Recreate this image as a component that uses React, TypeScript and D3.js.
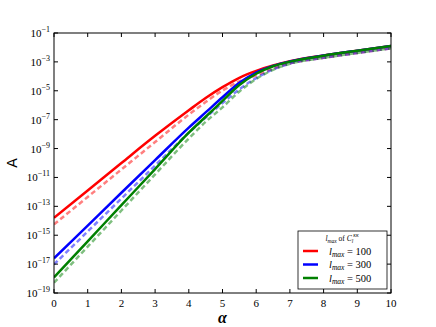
import React from "react";
import * as d3 from "d3";

const alphas = [0, 1, 2, 3, 4, 4.5, 5, 5.5, 6, 6.5, 7, 8, 9, 10];
// log10(A) values
const red100 = [-13.79, -11.9, -10.0, -8.12, -6.35, -5.5, -4.75, -4.1, -3.62, -3.25, -2.95, -2.55, -2.22, -1.9];
const blue300 = [-16.6, -14.33, -12.06, -9.8, -7.55, -6.5, -5.45, -4.45, -3.74, -3.28, -2.97, -2.56, -2.22, -1.9];
const green500 = [-17.92, -15.42, -12.92, -10.42, -7.9, -6.8, -5.7, -4.6, -3.82, -3.3, -2.98, -2.57, -2.23, -1.9];
const red100Dash = [-14.25, -12.35, -10.45, -8.55, -6.65, -5.78, -4.98, -4.35, -3.93, -3.46, -3.1, -2.72, -2.38, -2.06];
const blue300Dash = [-17.02, -14.74, -12.46, -10.18, -7.9, -6.85, -5.85, -4.9, -4.12, -3.52, -3.12, -2.72, -2.38, -2.06];
const green500Dash = [-18.29, -15.79, -13.29, -10.79, -8.3, -7.15, -6.15, -5.05, -4.18, -3.55, -3.13, -2.72, -2.38, -2.06];

const xTicks = [0, 1, 2, 3, 4, 5, 6, 7, 8, 9, 10];
const yTickExps = [-1, -3, -5, -7, -9, -11, -13, -15, -17, -19];
const legendLabels = ["100", "300", "500"];

const W = 436, H = 327;
const left = 54, right = 391, top = 33, bottom = 293;

export default function App() {
  const x = d3.scaleLinear().domain([0, 10]).range([left, right]);
  const y = d3.scaleLog().domain([1e-19, 1e-1]).range([bottom, top]);
  const line = d3
    .line<[number, number]>()
    .x((d) => x(d[0]))
    .y((d) => y(Math.pow(10, d[1])))
    .curve(d3.curveMonotoneX);
  const mk = (arr: number[]) => line(alphas.map((a, i) => [a, arr[i]] as [number, number])) || "";

  const series = [
    { d: red100Dash, c: "#ff0000", dash: true },
    { d: blue300Dash, c: "#0000ff", dash: true },
    { d: green500Dash, c: "#008000", dash: true },
    { d: red100, c: "#ff0000", dash: false },
    { d: blue300, c: "#0000ff", dash: false },
    { d: green500, c: "#008000", dash: false },
  ];
  const legColors = ["#ff0000", "#0000ff", "#008000"];
  const serif = "'Liberation Serif', 'DejaVu Serif', serif";

  return (
    <svg width={W} height={H} style={{ position: "absolute", left: 0, top: 0 }}>
      <rect x={0} y={0} width={W} height={H} fill="white" />
      <defs>
        <clipPath id="plotclip">
          <rect x={left} y={top} width={right - left} height={bottom - top} />
        </clipPath>
      </defs>
      <g clipPath="url(#plotclip)">
        {series.map((s, i) => (
          <path
            key={i}
            d={mk(s.d)}
            fill="none"
            stroke={s.c}
            strokeOpacity={s.dash ? 0.5 : 1}
            strokeWidth={2.5}
            strokeDasharray={s.dash ? "5,3" : undefined}
          />
        ))}
      </g>
      <rect x={left} y={top} width={right - left} height={bottom - top} fill="none" stroke="#000" strokeWidth={1} />
      {xTicks.map((t) => (
        <g key={"x" + t}>
          <line x1={x(t)} x2={x(t)} y1={bottom} y2={bottom - 4} stroke="#000" />
          <line x1={x(t)} x2={x(t)} y1={top} y2={top + 4} stroke="#000" />
          <text x={x(t)} y={bottom + 14} textAnchor="middle" fontFamily={serif} fontSize={11}>
            {t}
          </text>
        </g>
      ))}
      {yTickExps.map((e) => {
        const yy = y(Math.pow(10, e));
        return (
          <g key={"y" + e}>
            <line x1={left} x2={left + 4} y1={yy} y2={yy} stroke="#000" />
            <line x1={right} x2={right - 4} y1={yy} y2={yy} stroke="#000" />
            <text x={left - 4} y={yy + 4} textAnchor="end" fontFamily={serif} fontSize={11}>
              10
              <tspan dy={-5} fontSize={8}>
                {"\u2212" + Math.abs(e)}
              </tspan>
            </text>
          </g>
        );
      })}
      <text
        transform={`translate(17,${(top + bottom) / 2}) rotate(-90)`}
        textAnchor="middle"
        fontFamily="'DejaVu Sans', sans-serif"
        fontSize={14}
      >
        A
      </text>
      <text x={(left + right) / 2} y={323} textAnchor="middle" fontFamily={serif} fontStyle="italic" fontWeight="bold" fontSize={16}>
        α
      </text>
      <g>
        <rect x={298} y={231} width={89} height={58} fill="white" stroke="#000" strokeWidth={0.8} />
        <text x={342} y={241} textAnchor="middle" fontFamily={serif} fontSize={7.5}>
          <tspan fontStyle="italic">l</tspan>
          <tspan fontStyle="italic" fontSize={5.5} dy={1.5}>max</tspan>
          <tspan dy={-1.5}> of </tspan>
          <tspan fontStyle="italic">C</tspan>
          <tspan fontStyle="italic" fontSize={5.5} dy={2}>l</tspan>
          <tspan fontStyle="italic" fontSize={5.5} dy={-6}>κκ</tspan>
        </text>
        {legendLabels.map((lab, i) => {
          const ly = 251 + i * 13.5;
          return (
            <g key={lab}>
              <line x1={303} x2={318} y1={ly} y2={ly} stroke={legColors[i]} strokeWidth={2.5} />
              <text x={329} y={ly + 3.5} fontFamily={serif} fontSize={10.5}>
                <tspan fontStyle="italic">l</tspan>
                <tspan fontStyle="italic" fontSize={7.5} dy={2}>max</tspan>
                <tspan dy={-2}>{" = " + lab}</tspan>
              </text>
            </g>
          );
        })}
      </g>
    </svg>
  );
}
